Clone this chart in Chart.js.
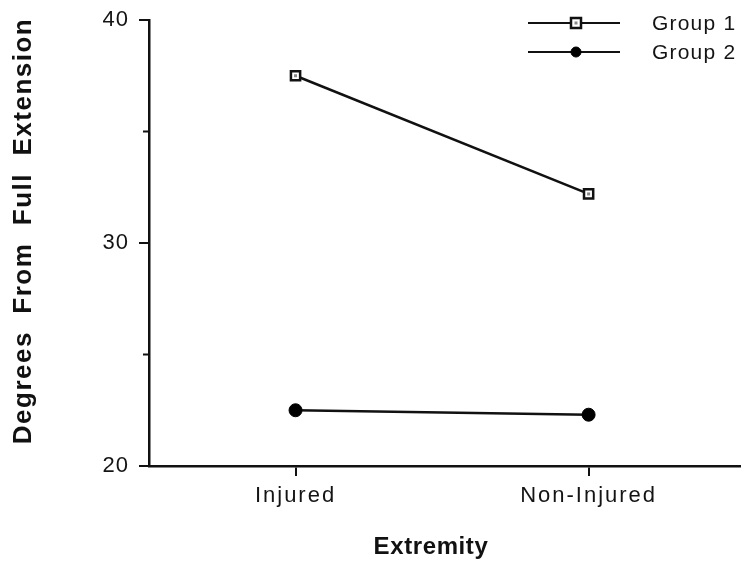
<!DOCTYPE html>
<html>
<head>
<meta charset="utf-8">
<script src="https://cdn.jsdelivr.net/npm/chart.js@4.4.1/dist/chart.umd.min.js"></script>
<style>
  html, body { margin: 0; padding: 0; background: #fff; }
  #wrap { width: 741px; height: 561px; }
</style>
</head>
<body>
<div id="wrap"><canvas id="c" width="741" height="561"></canvas></div>
<script>
// Extremity categories and mean degrees from full extension per group
const categories = ['Injured', 'Non-Injured'];
const group1 = [37.5, 32.2];
const group2 = [22.5, 22.3];
const seriesNames = ['Group 1', 'Group 2'];
const yTickLabels = [20, 30, 40];
const yMinorTicks = [25, 35];
const xTitle = 'Extremity';
const yTitle = 'Degrees  From  Full  Extension';

const FONT = '"Liberation Sans", Arial, Helvetica, sans-serif';
const INK = '#111';
const TEXT = '#141414';

function toPoints(vals) {
  return vals.map((v, i) => ({ x: i + 1, y: v }));
}

// Draw a marker in the style of a dataset (open square with a dot, or solid disc)
function drawMarker(ctx, ds, x, y) {
  ctx.save();
  ctx.lineWidth = ds.pointBorderWidth;
  ctx.strokeStyle = ds.pointBorderColor;
  ctx.fillStyle = ds.pointBackgroundColor;
  ctx.beginPath();
  if (ds.pointStyle === 'rect') {
    const r = ds.pointRadius;
    ctx.rect(x - r, y - r, 2 * r, 2 * r);
    ctx.fill(); ctx.stroke();
    ctx.fillStyle = '#888';
    ctx.fillRect(x - 1.5, y - 1.5, 3, 3);
  } else {
    ctx.arc(x, y, ds.pointRadius, 0, Math.PI * 2);
    ctx.fill(); ctx.stroke();
  }
  ctx.restore();
}

// Widen the letter spacing of a scale's own text drawing
function spaceOut(scale, method, spacing) {
  const orig = scale[method];
  scale[method] = function (...args) {
    const c = this.ctx;
    c.save();
    c.letterSpacing = spacing;
    orig.apply(this, args);
    c.restore();
  };
}

const letterSpacing = {
  id: 'letterSpacing',
  beforeDraw(chart) {
    if (chart.$spaced) return;
    spaceOut(chart.scales.x, 'drawLabels', '2px');
    spaceOut(chart.scales.y, 'drawLabels', '1px');
    chart.$spaced = true;
  }
};

// Shorter unlabeled ticks at the half-decade marks
const minorTicks = {
  id: 'minorTicks',
  afterDraw(chart) {
    const ctx = chart.ctx, y = chart.scales.y, left = chart.chartArea.left;
    ctx.save();
    ctx.strokeStyle = INK;
    ctx.lineWidth = 2;
    yMinorTicks.forEach(v => {
      const py = y.getPixelForValue(v);
      ctx.beginPath();
      ctx.moveTo(left - 6, py);
      ctx.lineTo(left, py);
      ctx.stroke();
    });
    ctx.restore();
  }
};

// Axis titles, set slightly off-centre
const axisTitles = {
  id: 'axisTitles',
  afterDraw(chart) {
    const ctx = chart.ctx, a = chart.chartArea;
    ctx.save();
    ctx.fillStyle = INK;
    ctx.textAlign = 'center';
    ctx.textBaseline = 'middle';
    ctx.font = 'bold 24px ' + FONT;
    ctx.letterSpacing = '0.6px';
    ctx.fillText(xTitle, (a.left + a.right) / 2 - 14, a.bottom + 81);
    ctx.translate(24, (a.top + a.bottom) / 2 - 12);
    ctx.rotate(-Math.PI / 2);
    ctx.font = 'bold 26px ' + FONT;
    ctx.letterSpacing = '1.5px';
    ctx.fillText(yTitle, 0, 0);
    ctx.restore();
  }
};

// Legend: short line with the series marker in its middle
const lineLegend = {
  id: 'lineLegend',
  afterDraw(chart) {
    const ctx = chart.ctx;
    const rows = [23, 52];
    chart.data.datasets.forEach((ds, i) => {
      const y = rows[i];
      ctx.save();
      ctx.strokeStyle = INK;
      ctx.lineWidth = 2;
      ctx.beginPath();
      ctx.moveTo(528, y);
      ctx.lineTo(620, y);
      ctx.stroke();
      ctx.restore();
      const legendDs = Object.assign({}, ds, { pointRadius: ds.pointRadius - 1.5 });
      drawMarker(ctx, legendDs, 576, y);
      ctx.save();
      ctx.fillStyle = TEXT;
      ctx.font = '21px ' + FONT;
      ctx.letterSpacing = '1.2px';
      ctx.textBaseline = 'middle';
      ctx.textAlign = 'left';
      ctx.fillText(seriesNames[i], 652, y + 1);
      ctx.restore();
    });
  }
};

// Open squares get a small grey centre dot
const innerDots = {
  id: 'innerDots',
  afterDatasetsDraw(chart) {
    const meta = chart.getDatasetMeta(0);
    const ctx = chart.ctx;
    ctx.save();
    ctx.fillStyle = '#888';
    meta.data.forEach(p => ctx.fillRect(p.x - 1.5, p.y - 1.5, 3, 3));
    ctx.restore();
  }
};

new Chart(document.getElementById('c'), {
  type: 'line',
  data: {
    datasets: [
      {
        label: seriesNames[0],
        data: toPoints(group1),
        borderColor: INK,
        borderWidth: 2.5,
        pointStyle: 'rect',
        pointRadius: 6.5,
        pointBorderWidth: 2.5,
        pointBackgroundColor: '#fff',
        pointBorderColor: INK
      },
      {
        label: seriesNames[1],
        data: toPoints(group2),
        borderColor: INK,
        borderWidth: 2.5,
        pointStyle: 'circle',
        pointRadius: 6.5,
        pointBorderWidth: 1,
        pointBackgroundColor: '#000',
        pointBorderColor: '#000'
      }
    ]
  },
  options: {
    responsive: false,
    animation: false,
    layout: { autoPadding: false, padding: { left: 0, top: 20, right: 0, bottom: 0 } },
    plugins: { legend: { display: false }, tooltip: { enabled: false } },
    scales: {
      x: {
        type: 'linear',
        min: 0.5,
        max: 2.52,
        afterBuildTicks(scale) {
          scale.ticks = categories.map((_, i) => ({ value: i + 1 }));
        },
        afterFit(scale) {
          scale.height = 95;
          scale.paddingLeft = 0;
          scale.paddingRight = 0;
        },
        ticks: {
          callback: (v) => categories[v - 1] || '',
          color: TEXT,
          font: { family: FONT, size: 22 },
          padding: 7,
          maxRotation: 0
        },
        grid: { drawOnChartArea: false, tickLength: 10, color: INK, lineWidth: 2 },
        border: { display: true, color: INK, width: 2.5 },
        title: { display: false }
      },
      y: {
        min: 20,
        max: 40,
        afterBuildTicks(scale) {
          scale.ticks = yTickLabels.map(v => ({ value: v }));
        },
        afterFit(scale) {
          scale.width = 149;
          scale.paddingTop = 0;
          scale.paddingBottom = 0;
        },
        ticks: {
          callback: (v) => String(v),
          color: TEXT,
          font: { family: FONT, size: 22 },
          padding: 10
        },
        grid: { drawOnChartArea: false, tickLength: 10, color: INK, lineWidth: 2 },
        border: { display: true, color: INK, width: 2.5 },
        title: { display: false }
      }
    }
  },
  plugins: [letterSpacing, innerDots, minorTicks, axisTitles, lineLegend]
});
</script>
</body>
</html>
